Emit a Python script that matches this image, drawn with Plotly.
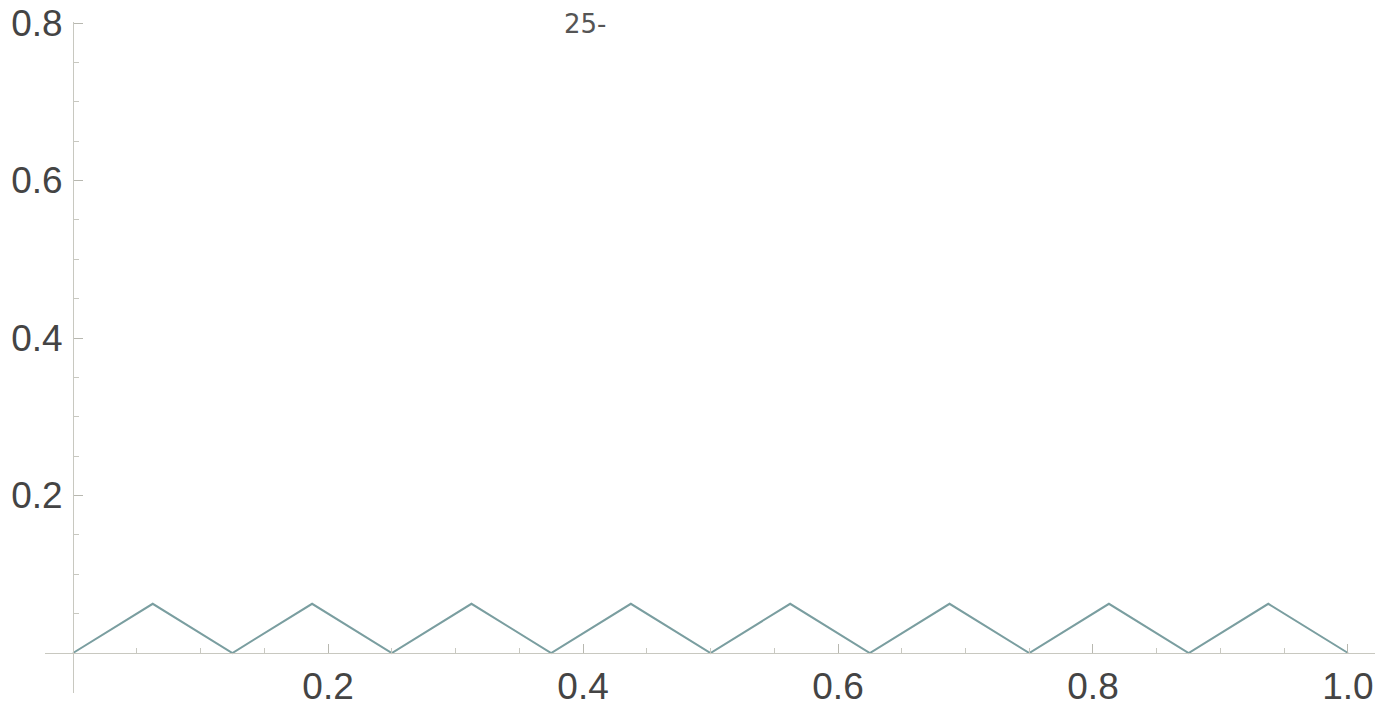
import plotly.graph_objects as go

# Data: tent function, distance to nearest multiple of 1/8
x_values = [0.0, 0.0625, 0.125, 0.1875, 0.25, 0.3125, 0.375, 0.4375, 0.5,
            0.5625, 0.625, 0.6875, 0.75, 0.8125, 0.875, 0.9375, 1.0]
y_values = [0.0, 0.0625, 0.0, 0.0625, 0.0, 0.0625, 0.0, 0.0625, 0.0,
            0.0625, 0.0, 0.0625, 0.0, 0.0625, 0.0, 0.0625, 0.0]
x_tick_vals = [0.2, 0.4, 0.6, 0.8, 1.0]
x_tick_text = ["0.2", "0.4", "0.6", "0.8", "1.0"]
y_tick_vals = [0.2, 0.4, 0.6, 0.8]
y_tick_text = ["0.2", "0.4", "0.6", "0.8"]

x_range = [-0.022, 1.0212]
y_range = [-0.0508, 0.8013]

fig = go.Figure()
fig.add_trace(go.Scatter(x=x_values, y=y_values, mode="lines",
                         line=dict(color="#7a9ea0", width=2),
                         showlegend=False, hoverinfo="skip"))

axis_font = dict(family="Liberation Sans, Arial, sans-serif", size=37, color="#444444")

ypos = (0 - y_range[0]) / (y_range[1] - y_range[0])
xpos = (0 - x_range[0]) / (x_range[1] - x_range[0])

fig.update_layout(
    width=1383, height=719,
    margin=dict(l=45, r=8, t=22, b=26),
    paper_bgcolor="white", plot_bgcolor="white",
    xaxis=dict(range=x_range, anchor="free", position=ypos,
               showgrid=False, zeroline=False, showline=True,
               linecolor="#c8c8c0", linewidth=1,
               ticks="inside", ticklen=9, tickcolor="#b8b8b0", tickwidth=1,
               tickvals=x_tick_vals, ticktext=x_tick_text,
               tickfont=axis_font, ticklabelstandoff=1, automargin=False,
               ticklabeloverflow="allow",
               minor=dict(ticks="inside", ticklen=5, dtick=0.05, tick0=0,
                          tickcolor="#c8c8c0", showgrid=False)),
    yaxis=dict(range=y_range, anchor="free", position=xpos,
               showgrid=False, zeroline=False, showline=True,
               linecolor="#c8c8c0", linewidth=1,
               ticks="inside", ticklen=9, tickcolor="#b8b8b0", tickwidth=1,
               tickvals=y_tick_vals, ticktext=y_tick_text,
               tickfont=axis_font, ticklabelstandoff=3, automargin=False,
               ticklabeloverflow="allow",
               minor=dict(ticks="inside", ticklen=5, dtick=0.05, tick0=0,
                          tickcolor="#c8c8c0", showgrid=False)),
)
# handwritten mark near the top centre
fig.add_annotation(text="25-", xref="paper", yref="paper",
                   x=(585 - 45) / 1330, y=1.0 - 2 / 671,
                   showarrow=False,
                   font=dict(family="DejaVu Sans, sans-serif", size=26, color="#555555"),
                   yanchor="middle")

# remove the default page body margin so the figure fills the window exactly
fig.write_html("out.html", config={"displayModeBar": False},
               post_script="document.body.style.margin='0';")
